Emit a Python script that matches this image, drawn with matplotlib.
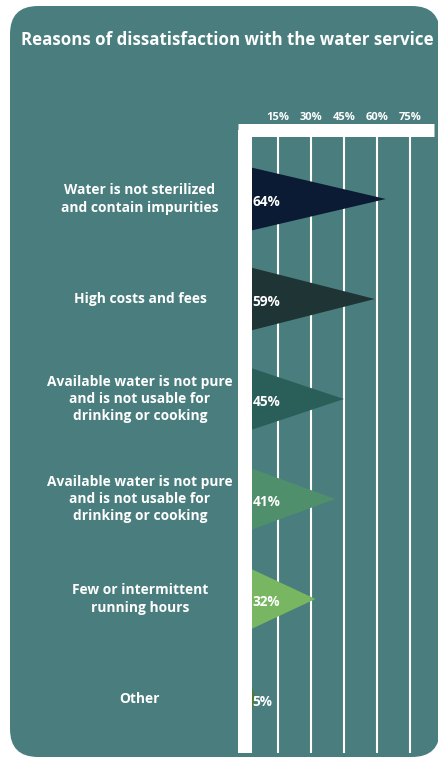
import numpy as np
import matplotlib.pyplot as plt
from matplotlib.patches import Polygon, FancyBboxPatch
from matplotlib.transforms import IdentityTransform, blended_transform_factory

# data
categories = [
    "Water is not sterilized\nand contain impurities",
    "High costs and fees",
    "Available water is not pure\nand is not usable for\ndrinking or cooking",
    "Available water is not pure\nand is not usable for\ndrinking or cooking",
    "Few or intermittent\nrunning hours",
    "Other",
]
values = [64, 59, 45, 41, 32, 5]
colors = ["#0a1b33", "#1f3535", "#2a5f59", "#4f8f6b", "#78b662", "#4e7b3d"]
tick_values = [15, 30, 45, 60, 75]
tick_labels = ["15%", "30%", "45%", "60%", "75%"]
title = "Reasons of dissatisfaction with the water service"

W, H = 438, 758
dpi = 100
teal = "#4a7e7e"
font = "Open Sans"

fig = plt.figure(figsize=(W / dpi, H / dpi), dpi=dpi)
fig.patch.set_facecolor("white")

# rounded background card, in pixels
card = FancyBboxPatch((10, H - 757), 430, 751,
                      boxstyle="round,pad=0,rounding_size=28",
                      transform=IdentityTransform(), facecolor=teal,
                      edgecolor="none", zorder=-10)
fig.patches.append(card)

fig.text(21 / W, 1 - 45 / H, title, color="white", fontsize=12.2,
         fontweight="bold", family=font, va="baseline", ha="left")

# axes: left edge 238 px, right 434 px, top 129.5 px, bottom 753 px
left, right, top, bottom = 238, 434, 129.5, 753
ax = fig.add_axes([left / W, 1 - bottom / H, (right - left) / W, (bottom - top) / H])
ax.set_facecolor("none")

px_per = 2.2
x0 = 245
ax.set_xlim((left - x0) / px_per, (right - x0) / px_per)
y_first, y_step = 199, 100
ax.set_ylim((bottom - y_first) / y_step, (top - y_first) / y_step)

# triangles
half = 0.33
for i, (v, c) in enumerate(zip(values, colors)):
    tri = Polygon([(0, i - half), (v, i), (0, i + half)], closed=True,
                  facecolor=c, edgecolor="none", zorder=2)
    ax.add_patch(tri)
    ax.text(3.5, i + 0.025, f"{v}%", color="white", fontsize=9.8,
            fontweight="bold", family=font, ha="left", va="center", zorder=4)

# category labels
trans = blended_transform_factory(fig.transFigure, ax.transData)
for i, lab in enumerate(categories):
    ax.text(140 / W, i, lab, transform=trans, color="white", fontsize=9.9,
            fontweight="bold", family=font, ha="center", va="center",
            linespacing=1.3)

# frame: white left bar and top band
for s in ["right", "bottom"]:
    ax.spines[s].set_visible(False)
ax.spines["left"].set_position(("data", 0))
for s, lw in [("left", 14), ("top", 13)]:
    ax.spines[s].set_linewidth(lw * 72 / dpi)
    ax.spines[s].set_color("white")
    ax.spines[s].set_capstyle("butt")
    ax.spines[s].set_zorder(3)

ax.xaxis.tick_top()
ax.set_xticks(tick_values)
ax.set_xticklabels(tick_labels, color="white", fontsize=8,
                   fontweight="bold", family=font)
ax.tick_params(axis="x", length=0, pad=4.5)
ax.set_yticks([])
ax.grid(axis="x", color="white", linewidth=1.5)
ax.set_axisbelow(True)

fig.savefig("out.png", dpi=dpi, facecolor="white")
